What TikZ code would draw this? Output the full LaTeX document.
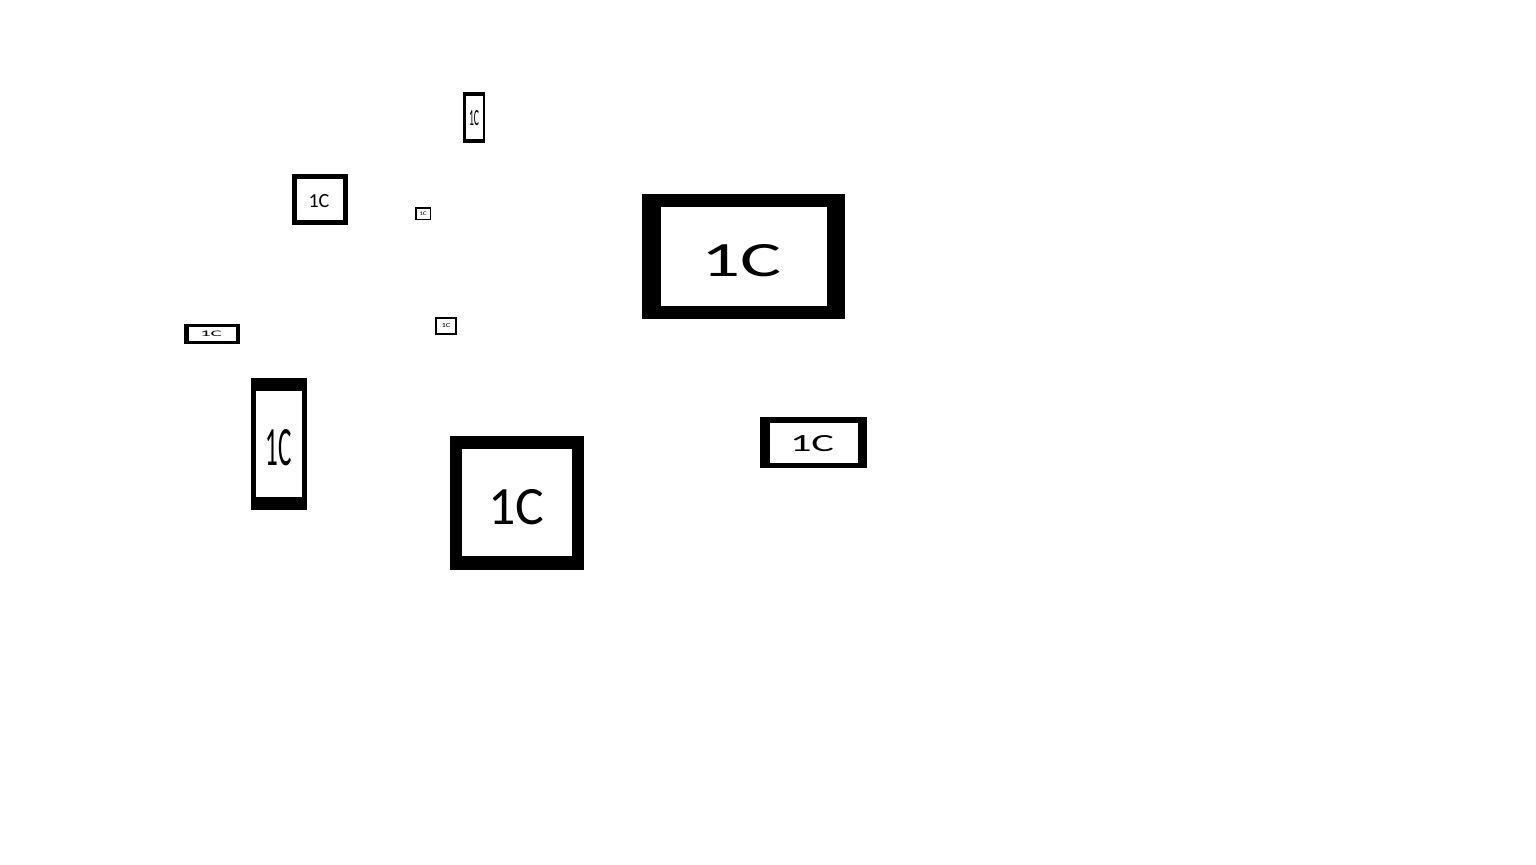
\documentclass[tikz,border=0pt]{standalone}
\usepackage{fontspec}
\setmainfont{Carlito}
\usepackage{graphicx}
\begin{document}
\begin{tikzpicture}[x=0.5pt,y=-0.5pt,
  frame/.style={fill=black},
  hole/.style={fill=white},
  lbl/.style={inner sep=0pt,outer sep=0pt,text=black}]
\useasboundingbox[fill=white] (0,0) rectangle (1536,864);
% A
\fill[frame] (463,92) rectangle (485,143);
\fill[hole] (465.5,96) rectangle (482.5,138.5);
\node[lbl] (a) at (474,118.5) {\resizebox{5pt}{7.5pt}{1C}};
% B
\fill[frame] (415,207) rectangle (431,220);
\fill[hole] (416.5,208.5) rectangle (429.5,218.5);
\node[lbl] (b) at (423,213.5) {\resizebox{3.75pt}{1.75pt}{1C}};
% C
\fill[frame] (435,317) rectangle (457,334.5);
\fill[hole] (437,319) rectangle (455,332.5);
\node[lbl] (c) at (446,326) {\resizebox{4.5pt}{2pt}{1C}};
% D
\fill[frame] (292,174) rectangle (348,225);
\fill[hole] (297,179) rectangle (343,220);
\node[lbl] (d) at (319,201.5) {\resizebox{10.5pt}{6.5pt}{1C}};
% E
\fill[frame] (184,324) rectangle (240,344);
\fill[hole] (188.5,327) rectangle (235.5,340.5);
\node[lbl] (e) at (211,334) {\resizebox{11pt}{2.75pt}{1C}};
% F
\fill[frame] (642,194) rectangle (845,318.5);
\fill[hole] (661,207) rectangle (827,306);
\node[lbl] (f) at (741,261) {\resizebox{40pt}{16pt}{1C}};
% G
\fill[frame] (759.5,417) rectangle (867,467.5);
\fill[hole] (769.5,422.5) rectangle (857.5,462.5);
\node[lbl] (g) at (812,444) {\resizebox{22pt}{8pt}{1C}};
% H
\fill[frame] (251,377.5) rectangle (307,510);
\fill[hole] (256,391) rectangle (302,497);
\node[lbl] (h) at (278.5,448) {\resizebox{13pt}{18pt}{1C}};
% I
\fill[frame] (449.5,435.5) rectangle (584,569.5);
\fill[hole] (462,448.5) rectangle (572,555.5);
\node[lbl] (i) at (516.5,507.5) {\resizebox{28pt}{17.5pt}{1C}};
\end{tikzpicture}
\end{document}
